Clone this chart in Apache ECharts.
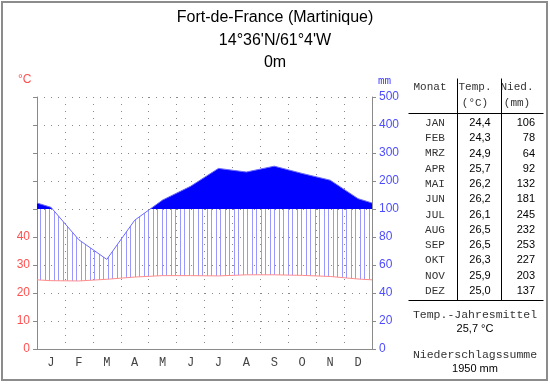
<!DOCTYPE html>
<html><head><meta charset="utf-8">
<script src="https://cdn.jsdelivr.net/npm/echarts@6/dist/echarts.min.js"></script>
<style>html,body{margin:0;padding:0;background:#fff}#c{width:550px;height:384px}</style>
</head><body><div id="c"></div>
<script>
// ---- data ----
const monthLetters = ['J','F','M','A','M','J','J','A','S','O','N','D'];
const monthNames = ['JAN','FEB','MRZ','APR','MAI','JUN','JUL','AUG','SEP','OKT','NOV','DEZ'];
const temps = [24.4,24.3,24.9,25.7,26.2,26.2,26.1,26.5,26.5,26.3,25.9,25.0];
const precip = [106,78,64,92,132,181,245,232,253,227,203,137];
const tempTicks = [0,10,20,30,40];
const precipTicks = [0,20,40,60,80,100,200,300,400,500];
const titleLines = ['Fort-de-France (Martinique)', "14°36'N/61°4'W", '0m'];

// Walter-Lieth scale: 10 °C = 20 mm below 100 mm, 100 mm per division above
function scaleP(p){ return p <= 100 ? p/20 : 5 + (p-100)/100; }
function scaleT(t){ return t/10; }

function buildPts(vals, sc){
  const edge = (vals[0] + vals[vals.length-1]) / 2;
  const pts = [[0, sc(edge)]];
  vals.forEach((v,i)=>pts.push([i+0.5, sc(v)]));
  pts.push([12, sc(edge)]);
  return pts;
}
const pPts = buildPts(precip, scaleP);
const tPts = buildPts(temps, scaleT);

function interp(P, x){
  for (let i=0;i<P.length-1;i++){
    const a=P[i], b=P[i+1];
    if (x>=a[0] && x<=b[0]){ const t=(x-a[0])/(b[0]-a[0]||1); return a[1]+t*(b[1]-a[1]); }
  }
  return P[P.length-1][1];
}
function clipAbove(poly, yc){
  const out=[];
  for (let i=0;i<poly.length;i++){
    const a=poly[i], b=poly[(i+1)%poly.length];
    const ain=a[1]<=yc, bin=b[1]<=yc;
    if (ain) out.push(a);
    if (ain!==bin){ const t=(yc-a[1])/(b[1]-a[1]); out.push([a[0]+t*(b[0]-a[0]), yc]); }
  }
  return out;
}

const chart = echarts.init(document.getElementById('c'), null, {renderer:'canvas'});
const gridColor = '#8a8a8a';
const mono = "'Liberation Mono','DejaVu Sans Mono',monospace";
const sans = "'Liberation Sans',Arial,sans-serif";

const graphics = [];
graphics.push({type:'rect', shape:{x:2,y:2,width:545,height:378}, style:{fill:null, stroke:'#8c8c8c', lineWidth:2}, silent:true});
titleLines.forEach((t,i)=>graphics.push({type:'text', x:275, y:[18,41,63][i], style:{text:t, font:'16px '+sans, fill:'#000', align:'center', verticalAlign:'middle'}}));
graphics.push({type:'text', x:18, y:80, style:{text:'°C', font:'12px '+sans, fill:'#ff5050', align:'left', verticalAlign:'middle'}});
graphics.push({type:'text', x:378, y:81, style:{text:'mm', font:'11px '+mono, fill:'#4040ff', align:'left', verticalAlign:'middle'}});
// table
const hdr = [['Monat',430,87],['Temp.',475,87],['(°C)',475,103],['Nied.',517,87],['(mm)',517,103]];
hdr.forEach(h=>graphics.push({type:'text', x:h[1], y:h[2], style:{text:h[0], font:'11px '+mono, fill:'#333', align:'center', verticalAlign:'middle'}}));
[[457,78,457,300],[501,78,501,300],[408,113,543,113],[408,300,543,300]].forEach(l=>graphics.push({type:'line', shape:{x1:l[0]+0.5,y1:l[1]+0.5,x2:l[2]+0.5,y2:l[3]+0.5}, style:{stroke:'#000', lineWidth:1}}));
monthNames.forEach((m,i)=>{
  const y = 123 + i*15.27;
  graphics.push({type:'text', x:435, y:y, style:{text:m, font:'11px '+mono, fill:'#333', align:'center', verticalAlign:'middle'}});
  graphics.push({type:'text', x:480, y:y, style:{text:temps[i].toFixed(1).replace('.',','), font:'11px '+sans, fill:'#000', align:'center', verticalAlign:'middle'}});
  graphics.push({type:'text', x:535, y:y, style:{text:String(precip[i]), font:'11px '+sans, fill:'#000', align:'right', verticalAlign:'middle'}});
});
const meanT = temps.reduce((a,b)=>a+b,0)/temps.length;
const sumP = precip.reduce((a,b)=>a+b,0);
graphics.push({type:'text', x:475, y:315, style:{text:'Temp.-Jahresmittel', font:'11.5px '+mono, fill:'#333', align:'center', verticalAlign:'middle'}});
graphics.push({type:'text', x:475, y:329, style:{text:meanT.toFixed(1).replace('.',',')+' °C', font:'11px '+sans, fill:'#000', align:'center', verticalAlign:'middle'}});
graphics.push({type:'text', x:475, y:355, style:{text:'Niederschlagssumme', font:'11.5px '+mono, fill:'#333', align:'center', verticalAlign:'middle'}});
graphics.push({type:'text', x:475, y:369, style:{text:sumP+' mm', font:'11px '+sans, fill:'#000', align:'center', verticalAlign:'middle'}});

const option = {
  animation:false,
  backgroundColor:'#fff',
  grid:{left:37, right:178, top:97, bottom:35, containLabel:false},
  graphic: graphics,
  xAxis:[
    {type:'category', data:monthLetters, boundaryGap:true,
     axisLine:{lineStyle:{color:gridColor}}, axisTick:{length:5, lineStyle:{color:gridColor}},
     axisLabel:{color:'#444', fontFamily:mono, fontSize:12, margin:8},
     splitLine:{show:true, lineStyle:{color:gridColor, type:[1,6], width:1}}},
    {type:'value', min:0, max:12, show:false}
  ],
  yAxis:[
    {type:'value', min:0, max:9, interval:1, position:'left',
     axisLine:{show:true, lineStyle:{color:gridColor}}, axisTick:{show:true, length:4, lineStyle:{color:gridColor}},
     axisLabel:{color:'#ff5050', fontFamily:sans, fontSize:12, margin:7, formatter:v=> v<tempTicks.length ? String(tempTicks[v]) : ''},
     splitLine:{show:true, lineStyle:{color:gridColor, type:[1,6], width:1}}},
    {type:'value', min:0, max:9, interval:1, position:'right',
     axisLine:{show:true, lineStyle:{color:gridColor}}, axisTick:{show:true, length:4, lineStyle:{color:gridColor}},
     axisLabel:{color:'#4d4dff', fontFamily:sans, fontSize:12, margin:7, formatter:v=> String(precipTicks[v])},
     splitLine:{show:false}}
  ],
  series:[
    {type:'custom', coordinateSystem:'cartesian2d', xAxisIndex:1, yAxisIndex:0, data:[[0,0]], silent:true, z:2,
     renderItem:function(params, api){
       const P = pPts.map(d=>api.coord(d));
       const T = tPts.map(d=>api.coord(d));
       const y5 = api.coord([0,5])[1];
       const x0 = P[0][0], x1 = P[P.length-1][0];
       const children = [];
       for (let x = x0+3; x < x1-0.5; x += 4.5){
         const xr = Math.round(x)+0.5;
         const yp = Math.max(interp(P, xr), y5);
         const yt = interp(T, xr);
         if (yt > yp) children.push({type:'line', shape:{x1:xr,y1:yt,x2:xr,y2:yp}, style:{stroke:'#9898ff', lineWidth:1}});
       }
       const poly = [[x0,y5]].concat(P).concat([[x1,y5]]);
       children.push({type:'polygon', shape:{points:clipAbove(poly, y5)}, style:{fill:'#0000ff'}});
       return {type:'group', children:children};
     }},
    {type:'line', xAxisIndex:1, yAxisIndex:0, data:pPts, symbol:'none', z:3, lineStyle:{color:'#6a6aff', width:1}},
    {type:'line', xAxisIndex:1, yAxisIndex:0, data:tPts, symbol:'none', z:3, lineStyle:{color:'#ff8c8c', width:1}}
  ]
};
chart.setOption(option);
</script></body></html>
